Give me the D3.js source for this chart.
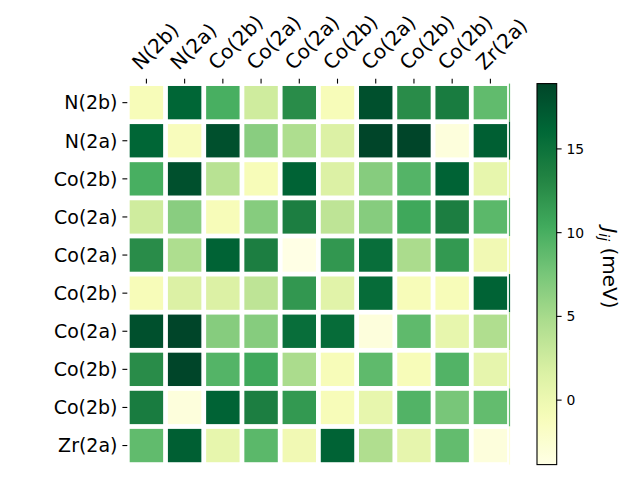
<!DOCTYPE html>
<html>
<head>
<meta charset="utf-8">
<script src="https://cdn.jsdelivr.net/npm/d3@7"></script>
<style>
  body { margin: 0; background: #fff; }
  text { font-family: "DejaVu Sans", sans-serif; }
</style>
</head>
<body>
<div id="chart"></div>
<script>
// Site labels, same order on both axes
const siteLabels = ["N(2b)", "N(2a)", "Co(2b)", "Co(2a)", "Co(2a)", "Co(2b)", "Co(2a)", "Co(2b)", "Co(2b)", "Zr(2a)"];

// Exchange couplings J_ij in meV, one row per site
const row0 = [-1.0, 16.2, 10.0, 2.5, 12.6, -1.0, 18.0, 12.6, 14.0, 8.7];
const row1 = [16.2, -1.2, 18.0, 6.6, 4.6, 1.6, 18.9, 18.9, -3.3, 16.8];
const row2 = [10.0, 18.0, 4.0, -1.0, 16.5, 1.6, 6.8, 9.4, 16.5, 0.5];
const row3 = [2.5, 6.6, -1.0, 6.8, 13.8, 3.6, 6.8, 10.6, 13.8, 9.0];
const row4 = [12.6, 4.6, 16.5, 13.8, -3.85, 11.8, 15.4, 4.8, 11.7, -0.4];
const row5 = [-1.0, 1.6, 1.6, 3.6, 11.8, 1.1, 15.6, -1.0, -1.0, 16.5];
const row6 = [18.0, 18.9, 6.8, 6.8, 15.4, 15.6, -3.3, 8.8, 0.5, 4.5];
const row7 = [12.6, 18.9, 9.4, 10.6, 4.8, -1.0, 8.8, -1.0, 9.5, 0.6];
const row8 = [14.0, -3.3, 16.5, 13.8, 11.7, -1.0, 0.5, 9.5, 7.5, 8.6];
const row9 = [8.7, 16.8, 0.5, 9.0, -0.4, 16.5, 4.5, 0.6, 8.6, -3.3];
const jRows = [row0, row1, row2, row3, row4, row5, row6, row7, row8, row9];

// Colorbar ticks
const cbarTicks = [0, 5, 10, 15];

// YlGn (ColorBrewer 9 class), linear between the stops like matplotlib
const ylgn = ["#ffffe5", "#f7fcb9", "#d9f0a3", "#addd8e", "#78c679", "#41ab5d", "#238443", "#006837", "#004529"];

const width = 640;
const height = 480;

// flat list of cells
const cells = [];
jRows.forEach((r, i) => r.forEach((v, j) => cells.push({ row: i, col: j, value: v })));

const extent = d3.extent(cells, d => d.value);

const color = d3.scaleLinear()
  .domain(ylgn.map((c, k) => extent[0] + (extent[1] - extent[0]) * k / (ylgn.length - 1)))
  .range(ylgn)
  .interpolate(d3.interpolateRgb);

const svg = d3.select("#chart")
  .append("svg")
  .attr("width", width)
  .attr("height", height);

// heatmap area
const plotLeft = 127.3, plotRight = 509.5, plotTop = 83.6, plotBottom = 464.6;
const idx = d3.range(siteLabels.length);

const x = d3.scaleBand()
  .domain(idx)
  .range([plotLeft, plotRight])
  .paddingInner(0.125)
  .paddingOuter(0.0625);

const y = d3.scaleBand()
  .domain(idx)
  .range([plotTop, plotBottom])
  .paddingInner(0.125)
  .paddingOuter(0.0625);

// cells
svg.selectAll(".cell")
  .data(cells)
  .enter()
  .append("rect")
  .attr("class", "cell")
  .attr("x", d => x(d.col))
  .attr("y", d => y(d.row))
  .attr("width", x.bandwidth())
  .attr("height", y.bandwidth())
  .attr("fill", d => color(d.value));

// thin sliver of the last column peeking at the right edge
svg.selectAll(".sliver")
  .data(cells.filter(d => d.col === siteLabels.length - 1))
  .enter()
  .append("rect")
  .attr("class", "sliver")
  .attr("x", plotRight - 0.6)
  .attr("y", d => y(d.row) - y.step() * y.paddingInner() / 2)
  .attr("width", 1.2)
  .attr("height", y.step())
  .attr("fill", d => color(d.value));

// top ticks and rotated labels
const tickLen = 4.9;
const topTicks = svg.append("g");
topTicks.selectAll("line")
  .data(idx)
  .enter()
  .append("line")
  .attr("x1", d => x(d) + x.bandwidth() / 2)
  .attr("x2", d => x(d) + x.bandwidth() / 2)
  .attr("y1", plotTop - tickLen)
  .attr("y2", plotTop)
  .attr("stroke", "#000")
  .attr("stroke-width", 1.1);

topTicks.selectAll("text")
  .data(idx)
  .enter()
  .append("text")
  .attr("transform", d => `translate(${x(d) + x.bandwidth() / 2 - 6},${plotTop - 12.5}) rotate(-45)`)
  .attr("text-anchor", "start")
  .style("font-size", "20px")
  .text(d => siteLabels[d]);

// left ticks and labels
const leftTicks = svg.append("g");
leftTicks.selectAll("line")
  .data(idx)
  .enter()
  .append("line")
  .attr("x1", plotLeft - tickLen)
  .attr("x2", plotLeft)
  .attr("y1", d => y(d) + y.bandwidth() / 2)
  .attr("y2", d => y(d) + y.bandwidth() / 2)
  .attr("stroke", "#000")
  .attr("stroke-width", 1.1);

leftTicks.selectAll("text")
  .data(idx)
  .enter()
  .append("text")
  .attr("x", plotLeft - tickLen * 2)
  .attr("y", d => y(d) + y.bandwidth() / 2)
  .attr("dy", "0.36em")
  .attr("text-anchor", "end")
  .style("font-size", "19px")
  .text(d => siteLabels[d]);

// colorbar
const cbX = 537, cbW = 19.7;
const cbScale = d3.scaleLinear().domain(extent).range([plotBottom, plotTop]);

const grad = svg.append("defs")
  .append("linearGradient")
  .attr("id", "cbGrad")
  .attr("x1", 0).attr("y1", 1)
  .attr("x2", 0).attr("y2", 0);

grad.selectAll("stop")
  .data(d3.range(0, 1.0001, 0.02))
  .enter()
  .append("stop")
  .attr("offset", d => d)
  .attr("stop-color", d => color(extent[0] + d * (extent[1] - extent[0])));

svg.append("rect")
  .attr("x", cbX)
  .attr("y", plotTop)
  .attr("width", cbW)
  .attr("height", plotBottom - plotTop)
  .attr("fill", "url(#cbGrad)")
  .attr("stroke", "#000")
  .attr("stroke-width", 1.1);

const cbAxis = svg.append("g");
cbAxis.selectAll("line")
  .data(cbarTicks)
  .enter()
  .append("line")
  .attr("x1", cbX + cbW)
  .attr("x2", cbX + cbW + tickLen)
  .attr("y1", d => cbScale(d))
  .attr("y2", d => cbScale(d))
  .attr("stroke", "#000")
  .attr("stroke-width", 1.1);

cbAxis.selectAll("text")
  .data(cbarTicks)
  .enter()
  .append("text")
  .attr("x", cbX + cbW + tickLen * 2)
  .attr("y", d => cbScale(d))
  .attr("dy", "0.36em")
  .style("font-size", "13.9px")
  .text(d => d);

// colorbar label, J_ij (meV), reads top to bottom
const cbLabel = svg.append("text")
  .attr("transform", `translate(603,268) rotate(90)`)
  .attr("text-anchor", "middle")
  .style("font-size", "20px");

cbLabel.append("tspan").style("font-style", "italic").text("J");
cbLabel.append("tspan").style("font-style", "italic").style("font-size", "14px").attr("dy", "4").text("ij");
cbLabel.append("tspan").attr("dy", "-4").text(" (meV)");
</script>
</body>
</html>
